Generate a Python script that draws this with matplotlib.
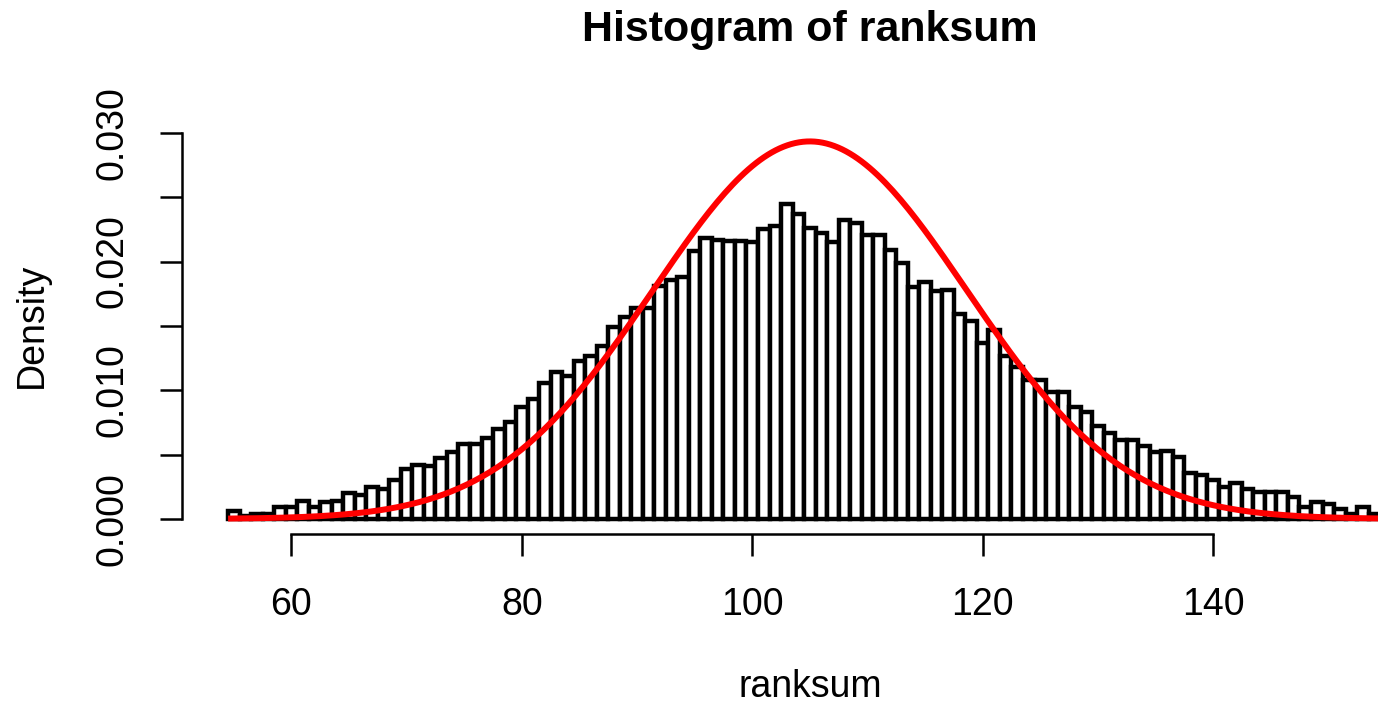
import numpy as np
import matplotlib
matplotlib.use("Agg")
import matplotlib.pyplot as plt

plt.rcParams['font.family'] = ['Liberation Sans', 'DejaVu Sans']

# bin centres (width 1) and density heights
bin_centers = list(range(55, 155))
density = [
    0.0006, 0.0002, 0.0004, 0.0004, 0.0009, 0.0009, 0.0014, 0.0009, 0.0013, 0.0014,
    0.0020, 0.0019, 0.0025, 0.0023, 0.0030, 0.0039, 0.0042, 0.0041, 0.0047, 0.0052,
    0.0058, 0.0058, 0.0063, 0.0070, 0.0075, 0.0087, 0.0093, 0.0106, 0.0114, 0.0111,
    0.0123, 0.0127, 0.0134, 0.0149, 0.0157, 0.0164, 0.0164, 0.0181, 0.0186, 0.0188,
    0.0208, 0.0218, 0.0217, 0.0216, 0.0216, 0.0215, 0.0225, 0.0228, 0.0245, 0.0237,
    0.0226, 0.0222, 0.0215, 0.0232, 0.0230, 0.0221, 0.0221, 0.0209, 0.0199, 0.0180,
    0.0184, 0.0177, 0.0178, 0.0159, 0.0154, 0.0137, 0.0147, 0.0127, 0.0118, 0.0108,
    0.0108, 0.0099, 0.0099, 0.0087, 0.0083, 0.0072, 0.0067, 0.0061, 0.0061, 0.0057,
    0.0052, 0.0053, 0.0048, 0.0036, 0.0034, 0.0030, 0.0025, 0.0028, 0.0023, 0.0021,
    0.0021, 0.0021, 0.0017, 0.0009, 0.0013, 0.0012, 0.0008, 0.0004, 0.0009, 0.0004,
]

# normal curve overlaid in red
norm_mean = 105
norm_sd = 13.6

xticks = [60, 80, 100, 120, 140]
yticks = [0.0, 0.005, 0.010, 0.015, 0.020, 0.025, 0.030]
ytick_labels = ['0.000', '', '0.010', '', '0.020', '', '0.030']

W, H = 1378, 704
fig = plt.figure(figsize=(W / 100, H / 100), dpi=100)

# plot region in pixels (matching R's layout)
left_px, right_px = 182, 1378
top_px, bottom_px = 117.4, 534.4
ax = fig.add_axes([left_px / W, 1 - bottom_px / H,
                   (right_px - left_px) / W, (bottom_px - top_px) / H])

ax.bar(bin_centers, density, width=1.0, color='white', edgecolor='black',
       linewidth=3.2, align='center')

xs = np.linspace(54.5, 156, 300)
ys = np.exp(-0.5 * ((xs - norm_mean) / norm_sd) ** 2) / (norm_sd * np.sqrt(2 * np.pi))
ax.plot(xs, ys, color='red', linewidth=4.3, solid_capstyle='butt')

ax.set_xlim(50.5, 60 + (right_px - 291) / 11.525)
ax.set_ylim(-0.0012, 0.0312)

for s in ['top', 'right']:
    ax.spines[s].set_visible(False)
ax.spines['left'].set_bounds(0, 0.03)
ax.spines['bottom'].set_bounds(60, 140)
for s in ['left', 'bottom']:
    ax.spines[s].set_linewidth(1.8)

ax.set_xticks(xticks)
ax.set_xticklabels([str(t) for t in xticks])
ax.set_yticks(yticks)
ax.set_yticklabels(ytick_labels, rotation=90, va='center')
ax.tick_params(axis='both', direction='out', length=16, width=1.8,
               labelsize=27, pad=22)
ax.tick_params(axis='y', pad=21)

fig.text(810 / W, 1 - 687 / H, 'ranksum', ha='center', va='center', fontsize=27)
fig.text(32 / W, 1 - 325 / H, 'Density', ha='center', va='center',
         fontsize=27, rotation=90)
fig.text(810 / W, 1 - 30 / H, 'Histogram of ranksum', ha='center', va='center',
         fontsize=31, fontweight='bold')

fig.savefig('out.png', dpi=100)
